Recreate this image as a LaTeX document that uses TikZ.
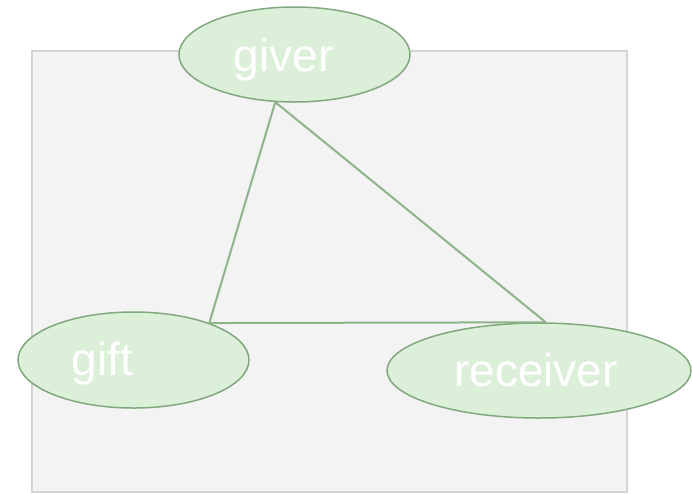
\documentclass[tikz,border=0pt]{standalone}
\usepackage{fontspec}
\setmainfont{Liberation Sans}
\usepackage{xcolor}
\usetikzlibrary{shapes.geometric,positioning,calc}
\definecolor{rolefill}{RGB}{220,239,217}
\definecolor{roleborder}{RGB}{130,168,126}
\definecolor{linkgreen}{RGB}{143,179,138}
\definecolor{panelgray}{RGB}{243,243,243}
\definecolor{panelborder}{RGB}{212,212,212}

\begin{document}
\begin{tikzpicture}[
  x=1pt, y=-1pt,
  role/.style={ellipse, draw=roleborder, fill=rolefill, line width=1.5pt, inner sep=0pt},
  roletext/.style={anchor=base, text=white, font=\fontsize{46}{50}\selectfont, inner sep=0pt},
  link/.style={linkgreen, line width=2pt}
]
\useasboundingbox (0,0) rectangle (692,493);
\draw[fill=panelgray, draw=panelborder, line width=2pt] (32,51) rectangle (627,492);

\node[role, minimum width=231pt, minimum height=95pt] (giver) at (294.5,54.5) {};
\node[role, minimum width=231pt, minimum height=96pt] (gift) at (133.5,360) {};
\node[role, minimum width=304pt, minimum height=95pt] (receiver) at (539,370.5) {};

\node[roletext] (givertext) at ([xshift=-11pt, yshift=-17pt]giver.center) {giver};
\node[roletext] (gifttext) at ([xshift=-31pt, yshift=-15pt]gift.center) {gift};
\node[roletext] (receivertext) at ([xshift=-3pt, yshift=-16pt]receiver.center) {receiver};

\draw[link] (giver.248) -- (gift.26);
\draw[link] (giver.248) -- (receiver.82);
\draw[link] (gift.26) -- (receiver.82);

\end{tikzpicture}
\end{document}
